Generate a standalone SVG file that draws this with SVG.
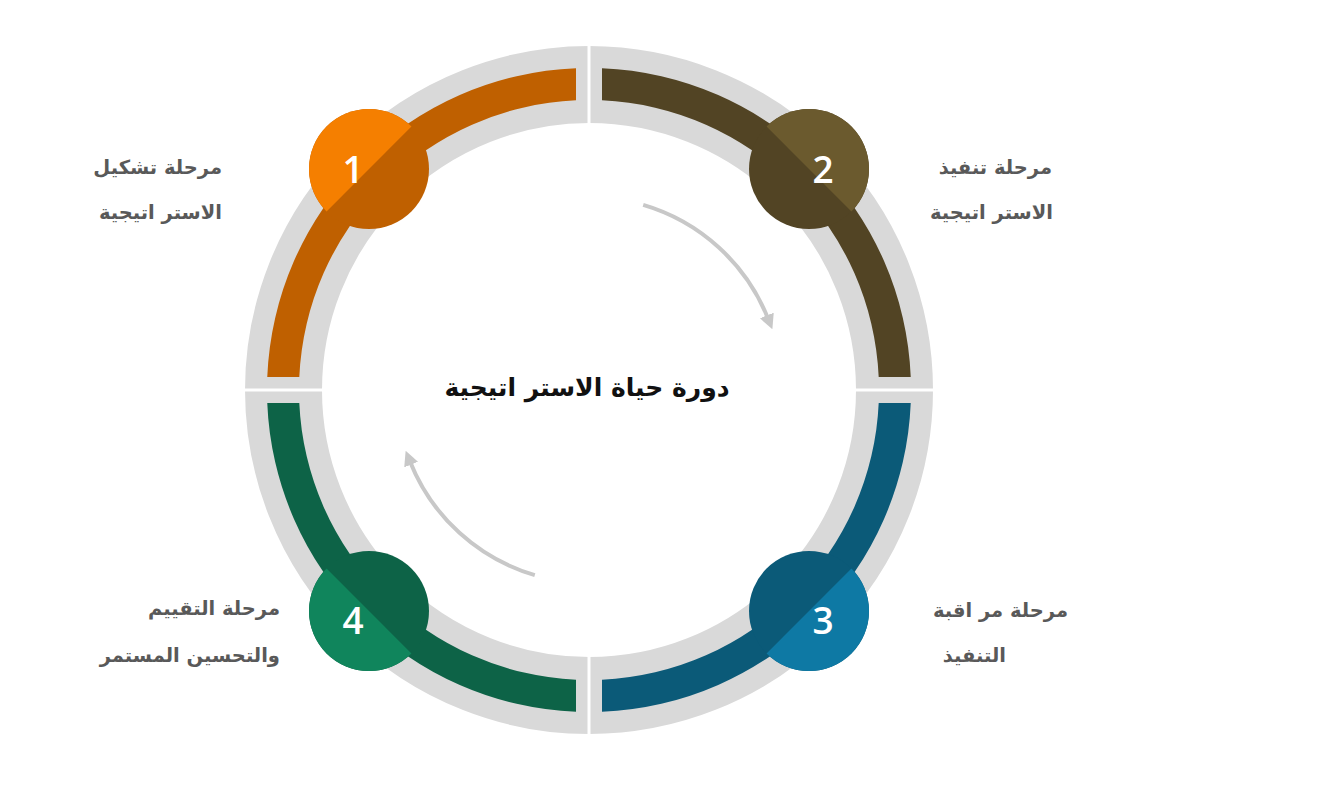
<svg xmlns="http://www.w3.org/2000/svg" width="1333" height="800" viewBox="0 0 1333 800">
  <style>
    .ring { fill: none; stroke: #D9D9D9; stroke-width: 77; }
    .gap { fill: #FFFFFF; }
    .flow { fill: none; stroke: #C8C8C8; stroke-width: 4; }
    .num { font-family: "Open Sans", "DejaVu Sans", sans-serif; font-weight: 600; font-size: 37px; fill: #FFFFFF; text-anchor: middle; }
    .lbl { font-family: "DejaVu Sans", sans-serif; font-weight: bold; font-size: 19.5px; fill: #595959; text-anchor: end; }
    .title { font-family: "DejaVu Sans", sans-serif; font-weight: bold; font-size: 25px; fill: #111111; text-anchor: middle; }
  </style>
  <defs>
    <marker id="ah" viewBox="0 0 10 10" markerWidth="15" markerHeight="15" refX="2" refY="5" orient="auto" markerUnits="userSpaceOnUse">
      <path d="M0,0 L10,5 L0,10 Z" fill="#C8C8C8"/>
    </marker>
  </defs>
  <rect width="1333" height="800" fill="#FFFFFF"/>

  <g id="ring">
    <circle class="ring" cx="589" cy="390" r="305.5"/>
    <rect class="gap" x="587.5" y="40" width="3" height="700"/>
    <rect class="gap" x="240" y="388.5" width="700" height="3"/>
  </g>

  <g id="connectors">
    <path class="flow" d="M 643.2 204.8 A 193 193 0 0 1 767.9 318.2" marker-end="url(#ah)"/>
    <path class="flow" d="M 534.8 575.2 A 193 193 0 0 1 410.1 461.8" marker-end="url(#ah)"/>
  </g>

  <g id="node1">
    <path d="M 267.26 377 A 322 322 0 0 1 576 68.26 L 576 100.3 A 290 290 0 0 0 299.3 377 Z" fill="#BF6000"/>
    <circle cx="369" cy="169" r="60" fill="#BF6000"/>
    <path d="M 411.43 126.57 A 60 60 0 0 0 326.57 211.43 Z" fill="#F57F00"/>
    <text class="num" x="353" y="183">1</text>
    <text class="lbl" x="222" y="174">مرحلة تشكيل</text>
    <text class="lbl" x="222" y="219">الاستر اتيجية</text>
  </g>

  <g id="node2">
    <path d="M 602 68.26 A 322 322 0 0 1 910.74 377 L 878.7 377 A 290 290 0 0 0 602 100.3 Z" fill="#524424"/>
    <circle cx="809" cy="169" r="60" fill="#524424"/>
    <path d="M 766.57 126.57 A 60 60 0 0 1 851.43 211.43 Z" fill="#6B5A2E"/>
    <text class="num" x="823" y="183">2</text>
    <text class="lbl" x="1052" y="174">مرحلة تنفيذ</text>
    <text class="lbl" x="1053" y="219">الاستر اتيجية</text>
  </g>

  <g id="node3">
    <path d="M 910.74 403 A 322 322 0 0 1 602 711.74 L 602 679.7 A 290 290 0 0 0 878.7 403 Z" fill="#0B5A78"/>
    <circle cx="809" cy="611" r="60" fill="#0B5A78"/>
    <path d="M 851.43 568.57 A 60 60 0 0 1 766.57 653.43 Z" fill="#0E79A4"/>
    <text class="num" x="823" y="634">3</text>
    <text class="lbl" x="1068" y="617">مرحلة مر اقبة</text>
    <text class="lbl" x="1006" y="662">التنفيذ</text>
  </g>

  <g id="node4">
    <path d="M 576 711.74 A 322 322 0 0 1 267.26 403 L 299.3 403 A 290 290 0 0 0 576 679.7 Z" fill="#0D6347"/>
    <circle cx="369" cy="611" r="60" fill="#0D6347"/>
    <path d="M 326.57 568.57 A 60 60 0 0 0 411.43 653.43 Z" fill="#10855C"/>
    <text class="num" x="353" y="634">4</text>
    <text class="lbl" x="280" y="615">مرحلة التقييم</text>
    <text class="lbl" x="280" y="662">والتحسين المستمر</text>
  </g>

  <g id="title">
    <text class="title" x="587" y="396">دورة حياة الاستر اتيجية</text>
  </g>
</svg>
